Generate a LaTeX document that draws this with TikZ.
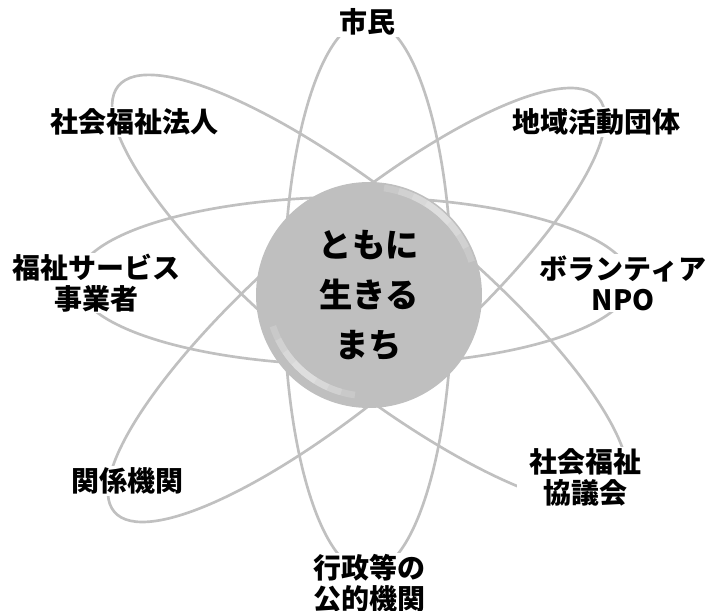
\documentclass[tikz,border=0pt]{standalone}
\usepackage{fontspec}
\newfontfamily\jpfont{Noto Sans CJK JP}
\usepackage{tikz}
\definecolor{orbitgray}{RGB}{192,192,192}
\definecolor{coregray}{RGB}{191,191,191}

\begin{document}
\begin{tikzpicture}[x=0.75pt, y=0.75pt,
  orbit/.style={draw=orbitgray, line width=2pt},
  tag/.style={fill=white, inner xsep=3pt, inner ysep=1pt, align=center,
    font=\jpfont\bfseries\fontsize{21}{23.25}\selectfont},
  glint/.style={white, opacity=0.16, line width=5pt},
  hubstyle/.style={circle, fill=coregray, minimum size=169.5pt, inner sep=0pt,
    align=center, font=\jpfont\bfseries\fontsize{25}{37.5}\selectfont}]
  \useasboundingbox (-369,-316) rectangle (339,295);
  % four orbits round the centre
  \draw[orbit] (-1,-1) ellipse (84 and 276);
  \draw[orbit] (-15,14) ellipse (277 and 84);
  \draw[orbit, rotate around={40.5:(-12.5,-10)}] (-12.5,-10) ellipse (318.5 and 86);
  \draw[orbit, rotate around={141:(1,5)}] (1,5) ellipse (324 and 88);
  % centre button
  \node[hubstyle, path picture={
      \foreach \s in {8,16,24,32} {
        \draw[glint] (path picture bounding box.center) ++(50-\s:108)
          arc[start angle=50-\s, end angle=50+\s, radius=108];
        \draw[glint] (path picture bounding box.center) ++(230-\s:101)
          arc[start angle=230-\s, end angle=230+\s, radius=101];
      }}] (hub) at (0,0) {ともに\\生きる\\まち};
  % labels
  \node[tag] (citizen) at (-1,273) {市民};
  \node[tag] (welfarecorp) at (-234,173) {社会福祉法人};
  \node[tag] (community) at (228,173) {地域活動団体};
  \node[tag] (provider) at (-272,12) {福祉サービス\\事業者};
  \node[tag] (volunteer) at (254,12) {ボランティア\\NPO};
  \node[tag] (agency) at (-241,-186) {関係機関};
  \node[tag, inner xsep=10pt] (council) at (217,-182) {社会福祉\\協議会};
  \node[tag] (public) at (1,-288) {行政等の\\公的機関};
\end{tikzpicture}
\end{document}
